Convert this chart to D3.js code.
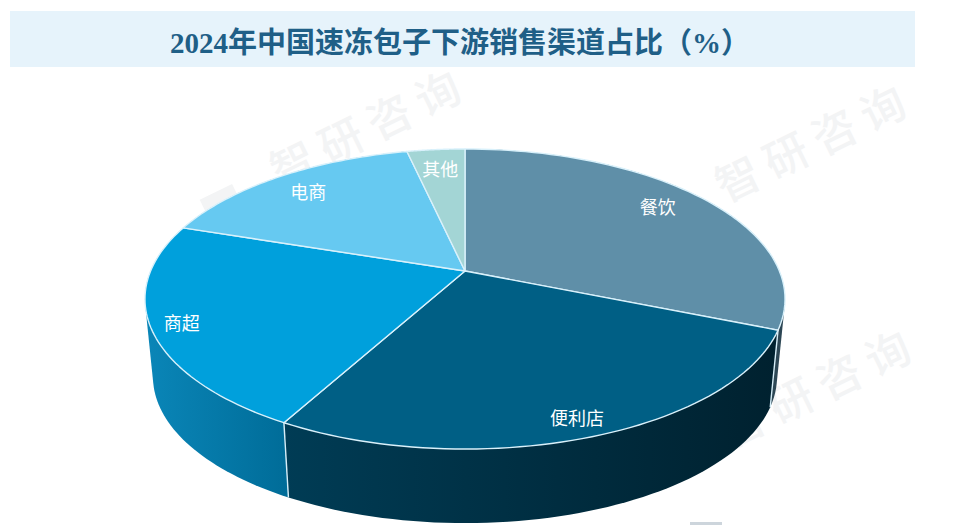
<!DOCTYPE html>
<html><head><meta charset="utf-8">
<script src="https://cdn.jsdelivr.net/npm/d3@7/dist/d3.min.js"></script>
<style>html,body{margin:0;padding:0;background:#fff}svg{display:block}</style></head>
<body><svg id="c" width="967" height="525"></svg>
<script>
const title = "2024年中国速冻包子下游销售渠道占比（%）";
const categories = ["餐饮","便利店","商超","电商","其他"];
const values = [31.2,26.8,22.1,16.4,3.5];
const topColors = ["#5f8fa8","#005f85","#00a0dc","#66c9f1","#a3d5d5"];
const sideStart = ["#44606c","#003c55","#0a86b8","#3f8fb0","#6a9a9a"];
const sideEnd = ["#2c4654","#00212f","#006c98","#3f8fb0","#6a9a9a"];
const labelRadius = [0.83,0.9,0.908,0.828,0.824];
const labelTurn = [-2.4,0,0,0,0];
const watermarkText = "智研咨询";
const watermarks = [[365,128],[810,143],[815,388]];

const svg = d3.select("#c");
const defs = svg.append("defs");

// Watermarks
const wm = svg.append("g").attr("fill","#f3f4f5");
watermarks.forEach(([x,y])=>{
  const g = wm.append("g").attr("transform",`translate(${x},${y}) rotate(-26)`);
  g.append("rect").attr("x",-180).attr("y",-8).attr("width",36).attr("height",24);
  g.append("text").attr("x",0).attr("y",17).attr("text-anchor","middle").attr("font-size",44).attr("font-weight",500)
    .attr("font-family","'Noto Sans CJK SC'").attr("textLength",205).text(watermarkText);
});
svg.append("rect").attr("x",690).attr("y",522).attr("width",32).attr("height",3).attr("fill","#cdd5dc");

// Title banner
svg.append("rect").attr("x",10).attr("y",11).attr("width",905).attr("height",56).attr("fill","#e6f3fb");
svg.append("text").attr("x",170).attr("y",53)
  .attr("font-family","'Liberation Serif','Noto Sans CJK SC'").attr("font-weight",700).attr("font-size",29)
  .attr("fill","#1f5f87").text(title);

// Perspective projection of the unit disc
const cx=465, cy=271, k=0.1867, A=314.4, B=144.8;
const depthScale=0.975, depthY=78.5;
function projTop(a,r=1){
  const u=r*Math.sin(a), v=-r*Math.cos(a), w=1-k*v;
  return [cx+A*u/w, cy+B*v/w];
}
function projBottom(a){
  const [x,y]=projTop(a);
  return [cx+(x-cx)*depthScale, cy+depthY+(y-cy)*depthScale];
}
const pie = d3.pie().sort(null).value(d=>d)(values);
const arcPts = (f,a0,a1)=>d3.range(0,61).map(i=>f(a0+(a1-a0)*i/60));
const line = d3.line();

// Side walls: the convex hull of each slice's rim pair, so the silhouette runs tangent
// from the top rim to the bottom rim. Drawn back to front, the top face hides the rest.
const sides = svg.append("g");
const order = d3.range(pie.length).sort((a,b)=>
  projTop((pie[a].startAngle+pie[a].endAngle)/2)[1]-projTop((pie[b].startAngle+pie[b].endAngle)/2)[1]);
order.forEach(i=>{
  const s=pie[i], id="side"+i, top=arcPts(projTop,s.startAngle,s.endAngle), bot=arcPts(projBottom,s.startAngle,s.endAngle);
  const xs=top.map(p=>p[0]).concat(bot.map(p=>p[0]));
  const grad=defs.append("linearGradient").attr("id",id).attr("gradientUnits","userSpaceOnUse")
    .attr("x1",d3.min(xs)).attr("x2",d3.max(xs)).attr("y1",0).attr("y2",0);
  grad.append("stop").attr("offset",0).attr("stop-color",sideStart[i]);
  grad.append("stop").attr("offset",1).attr("stop-color",sideEnd[i]);
  sides.append("path").attr("d",line(d3.polygonHull(top.concat(bot)))+"Z").attr("fill",`url(#${id})`);
});
// Wall seams at slice boundaries facing the viewer
pie.forEach(s=>{
  const a=s.endAngle;
  if(Math.cos(a)<0.1 && a<2*Math.PI-0.01){
    sides.append("path").attr("d",line([projTop(a),projBottom(a)]))
      .attr("stroke","#d6eef8").attr("stroke-width",1.4).attr("fill","none");
  }
});

// Top faces
const faces = svg.append("g");
pie.forEach((s,i)=>{
  const pts=[[cx,cy]].concat(arcPts(projTop,s.startAngle,s.endAngle));
  faces.append("path").attr("d",line(pts)+"Z").attr("fill",topColors[i])
    .attr("stroke","#d9f1fb").attr("stroke-width",1.4).attr("stroke-linejoin","round");
});

// Labels
const labels = svg.append("g").attr("font-family","'Noto Sans CJK SC'").attr("font-size",18)
  .attr("fill","#fff").attr("text-anchor","middle").attr("dominant-baseline","central");
pie.forEach((s,i)=>{
  const a=(s.startAngle+s.endAngle)/2+labelTurn[i]*Math.PI/180;
  const [x,y]=projTop(a,labelRadius[i]);
  labels.append("text").attr("x",x).attr("y",y).text(categories[i]);
});
</script></body></html>
